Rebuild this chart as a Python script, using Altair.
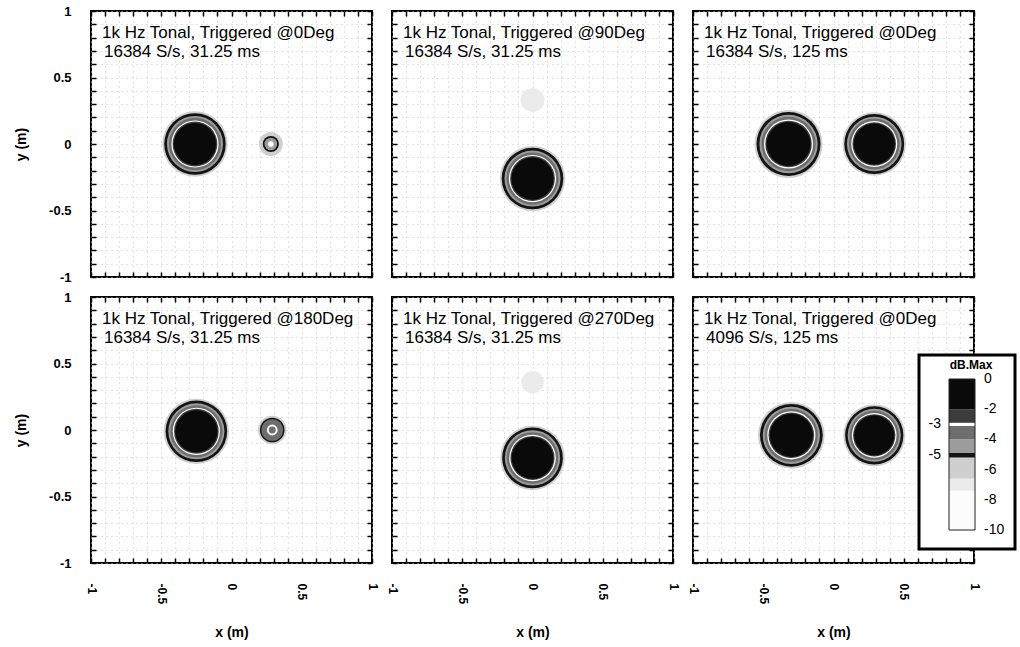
import altair as alt
import pandas as pd

FONT = "Liberation Sans"
PW, PH = 281, 266

# ---------------- data ----------------
line1 = [
    "1k Hz Tonal, Triggered @0Deg",
    "1k Hz Tonal, Triggered @90Deg",
    "1k Hz Tonal, Triggered @0Deg",
    "1k Hz Tonal, Triggered @180Deg",
    "1k Hz Tonal, Triggered @270Deg",
    "1k Hz Tonal, Triggered @0Deg",
]
line2 = [
    "16384 S/s, 31.25 ms",
    "16384 S/s, 31.25 ms",
    "16384 S/s, 125 ms",
    "16384 S/s, 31.25 ms",
    "16384 S/s, 31.25 ms",
    "4096 S/s, 125 ms",
]

# sources (one entry per source)
src_panel = [0, 0, 1, 1, 2, 2, 3, 3, 4, 4, 5, 5]
src_x = [-0.26, 0.28, 0.00, 0.00, -0.32, 0.29, -0.25, 0.29, 0.00, 0.00, -0.30, 0.29]
src_y = [0.00, 0.00, -0.26, 0.33, 0.00, 0.00, -0.01, 0.00, -0.21, 0.36, -0.04, -0.04]
src_core = [0.150, 0.050, 0.150, 0.085, 0.156, 0.146, 0.150, 0.070, 0.148, 0.080, 0.153, 0.142]
src_kind = ["strong", "weak", "strong", "faint", "strong", "strong",
            "strong", "medium", "strong", "faint", "strong", "strong"]

# contour levels (dB re max) of each source type, outer to inner
ring_levels = {
    "strong": [-6.0, -5.0, -4.5, -3.5, -3.0, -2.5, 0.0],
    "medium": [-6.0, -5.0, -4.0, -3.0, -3.5],
    "weak": [-6.0, -5.0, -4.5, -3.0],
    "faint": [-7.0],
}
ring_rel = {
    "strong": [1.55, 1.46, 1.33, 1.24, 1.12, 1.06, 1.00],
    "medium": [1.45, 1.25, 1.10, 0.55, 0.35],
    "weak": [1.70, 1.15, 0.90, 0.40],
    "faint": [1.00],
}

tick_vals = [-1.0, -0.9, -0.8, -0.7, -0.6, -0.5, -0.4, -0.3, -0.2, -0.1, 0.0,
             0.1, 0.2, 0.3, 0.4, 0.5, 0.6, 0.7, 0.8, 0.9, 1.0]

legend_right = [0, -2, -4, -6, -8, -10]
legend_left = [-3, -5]
band_lo = [-10.0, -7.4, -6.6, -5.2, -4.9, -4.0, -3.1, -2.9, -2.0]
band_hi = [-7.4, -6.6, -5.2, -4.9, -4.0, -3.1, -2.9, -2.0, 0.0]

# ---------------- tables ----------------
rows = []
for p, x, y, c, k in zip(src_panel, src_x, src_y, src_core, src_kind):
    for lev, rel in zip(ring_levels[k], ring_rel[k]):
        r = c * rel
        rows.append({"panel": p, "x": x, "y": y, "level": lev, "r": r, "r2": r * r})
rings = pd.DataFrame(rows)

bands = pd.DataFrame({"lo": band_lo, "hi": band_hi,
                      "mid": [(a + b) / 2 for a, b in zip(band_lo, band_hi)]})
lab_r = pd.DataFrame({"v": legend_right, "s": [str(v) for v in legend_right]})
lab_l = pd.DataFrame({"v": legend_left, "s": [str(v) for v in legend_left]})

# ---------------- styles ----------------
shade = ["#fcfcfc", "#ebebeb", "#cfcfcf", "#141414", "#9c9c9c", "#6e6e6e",
         "#ffffff", "#3c3c3c", "#0a0a0a"]
color_scale = alt.Scale(type="threshold", domain=band_lo[1:], range=shade)
xy_scale = alt.Scale(domain=[-1, 1], nice=False, zero=False)
size_scale = alt.Scale(type="linear", domain=[0, 1], range=[0, PW * PW])
GRID = "#c4c4c4"
DASH = [1, 4]
LABEL_EXPR = ("abs(datum.value * 2 - round(datum.value * 2)) < 0.001 ? "
              "'' + round(datum.value * 10) / 10 : ''")


def main_x_axis(show):
    if show:
        return alt.Axis(values=tick_vals, labelExpr=LABEL_EXPR, labelAngle=90,
                        labelPadding=20, labelFont=FONT, labelFontSize=12,
                        labelFontWeight="bold", labelColor="black",
                        labelOverlap=False, labelFlush=False,
                        ticks=False, tickSize=0, domain=False,
                        grid=True, gridColor=GRID, gridDash=DASH, gridWidth=1,
                        title="x (m)", titleFont=FONT, titleFontSize=14,
                        titleFontWeight="bold", titleColor="black", titlePadding=22)
    return alt.Axis(values=tick_vals, labels=False, ticks=False, tickSize=0,
                    domain=False, grid=True, gridColor=GRID, gridDash=DASH,
                    gridWidth=1, title=None)


def main_y_axis(show):
    if show:
        return alt.Axis(values=tick_vals, labelExpr=LABEL_EXPR, labelPadding=20,
                        labelFont=FONT, labelFontSize=13, labelFontWeight="bold",
                        labelColor="black", labelOverlap=False, labelFlush=False,
                        ticks=False, tickSize=0, domain=False,
                        grid=True, gridColor=GRID, gridDash=DASH, gridWidth=1,
                        title="y (m)", titleFont=FONT, titleFontSize=14,
                        titleFontWeight="bold", titleColor="black", titlePadding=20)
    return alt.Axis(values=tick_vals, labels=False, ticks=False, tickSize=0,
                    domain=False, grid=True, gridColor=GRID, gridDash=DASH,
                    gridWidth=1, title=None)


def tick_axis(orient, offset):
    return alt.Axis(orient=orient, offset=offset, values=tick_vals, labels=False,
                    ticks=True, tickSize=5, tickWidth=1.5, tickColor="black",
                    domain=False, grid=False, title=None)


def panel(i):
    row, col = divmod(i, 3)
    d = rings[rings["panel"] == i]
    base = alt.Chart(d)
    blobs = base.mark_point(shape="circle", filled=True, opacity=1, strokeWidth=0).encode(
        x=alt.X("x:Q", scale=xy_scale, axis=main_x_axis(row == 1)),
        y=alt.Y("y:Q", scale=xy_scale, axis=main_y_axis(col == 0)),
        size=alt.Size("r2:Q", scale=size_scale, legend=None),
        color=alt.Color("level:Q", scale=color_scale, legend=None),
        order=alt.Order("r:Q", sort="descending"),
    )
    ticks_a = base.mark_point(opacity=0).encode(
        x=alt.X("x:Q", scale=xy_scale, axis=tick_axis("top", -PH)),
        y=alt.Y("y:Q", scale=xy_scale, axis=tick_axis("right", -PW)),
    )
    ticks_b = base.mark_point(opacity=0).encode(
        x=alt.X("x:Q", scale=xy_scale, axis=tick_axis("bottom", -PH)),
        y=alt.Y("y:Q", scale=xy_scale, axis=tick_axis("left", -PW)),
    )
    txt = pd.DataFrame({"t": [line1[i]], "u": [line2[i]]})
    t1 = alt.Chart(txt).mark_text(align="left", baseline="middle", font=FONT,
                                  fontSize=17, color="black").encode(
        text="t:N", x=alt.value(11), y=alt.value(22))
    t2 = alt.Chart(txt).mark_text(align="left", baseline="middle", font=FONT,
                                  fontSize=17, color="black").encode(
        text="u:N", x=alt.value(13), y=alt.value(41))
    main = alt.layer(blobs, ticks_a, ticks_b, t1, t2).resolve_axis(
        x="independent", y="independent")
    if i != 5:
        return main.properties(width=PW, height=PH)

    leg_y = alt.Scale(domain=[-10, 0], range=[233, 82], nice=False, zero=False)
    box = alt.Chart(pd.DataFrame({"a": [0]})).mark_rect(
        fill="white", stroke="black", strokeWidth=3).encode(
        x=alt.value(226), x2=alt.value(322), y=alt.value(58), y2=alt.value(252))
    bar = alt.Chart(bands).mark_rect().encode(
        x=alt.value(256), x2=alt.value(282),
        y=alt.Y("lo:Q", scale=leg_y, axis=None), y2="hi:Q",
        color=alt.Color("mid:Q", scale=color_scale, legend=None))
    outline = alt.Chart(pd.DataFrame({"lo": [band_lo[0]], "hi": [band_hi[-1]]})).mark_rect(
        fillOpacity=0, stroke="#222222", strokeWidth=1).encode(
        x=alt.value(256), x2=alt.value(282),
        y=alt.Y("lo:Q", scale=leg_y, axis=None), y2="hi:Q")
    rlab = alt.Chart(lab_r).mark_text(align="left", baseline="middle", font=FONT,
                                      fontSize=14, color="black").encode(
        text="s:N", x=alt.value(291), y=alt.Y("v:Q", scale=leg_y, axis=None))
    llab = alt.Chart(lab_l).mark_text(align="right", baseline="middle", font=FONT,
                                      fontSize=14, color="black").encode(
        text="s:N", x=alt.value(248), y=alt.Y("v:Q", scale=leg_y, axis=None))
    ttl = alt.Chart(pd.DataFrame({"t": ["dB.Max"]})).mark_text(
        align="center", baseline="middle", font=FONT, fontSize=12,
        fontWeight="bold", color="black").encode(
        text="t:N", x=alt.value(278), y=alt.value(68))
    legend = alt.layer(box, bar, outline, rlab, llab, ttl)
    return alt.layer(main, legend).resolve_scale(
        x="independent", y="independent").properties(width=PW, height=PH)


panels = [panel(i) for i in range(6)]
chart = alt.concat(*panels, columns=3, spacing=20, bounds="flush").properties(
    padding={"left": 13, "top": 4, "right": 0, "bottom": 0},
    background="white",
).configure_view(stroke="black", strokeWidth=2)

chart.save("out.html", embed_options={"renderer": "svg", "actions": False})
